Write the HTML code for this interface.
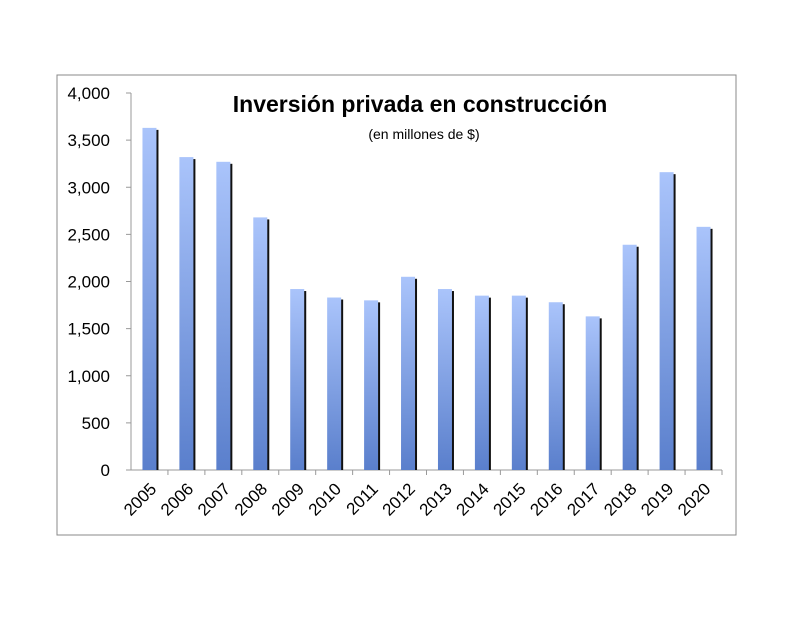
<!DOCTYPE html>
<html><head><meta charset="utf-8"><style>
body{margin:0;background:#fff}
svg text{font-family:"Liberation Sans",sans-serif}
</style></head><body>
<svg width="792" height="612" xmlns="http://www.w3.org/2000/svg">
<defs>
<linearGradient id="g" x1="0" y1="0" x2="0" y2="1">
<stop offset="0" stop-color="#aac4fb"/><stop offset="1" stop-color="#5a7fcc"/>
</linearGradient>
</defs>
<rect x="57" y="75" width="679" height="460" fill="#fff" stroke="#888" stroke-width="1"/>
<text x="420" y="112" text-anchor="middle" font-size="23" font-weight="bold">Inversión privada en construcción</text>
<text x="424" y="139" text-anchor="middle" font-size="14">(en millones de $)</text>
<g id="plot"></g>
</svg>
<script>
const categories=["2005","2006","2007","2008","2009","2010","2011","2012","2013","2014","2015","2016","2017","2018","2019","2020"];
const values=[3630,3320,3270,2680,1920,1830,1800,2050,1920,1850,1850,1780,1630,2390,3160,2580];
const yTicks=[0,500,1000,1500,2000,2500,3000,3500,4000];
const yTickLabels=["0","500","1,000","1,500","2,000","2,500","3,000","3,500","4,000"];
const NS="http://www.w3.org/2000/svg";
const g=document.getElementById("plot");
const X0=131,X1=722,Y0=470,Y1=93,MAX=4000;
const bw=(X1-X0)/categories.length;
const y=v=>Y0-(v/MAX)*(Y0-Y1);
const x=i=>X0+i*bw;
function mk(t,a){const e=document.createElementNS(NS,t);for(const k in a)e.setAttribute(k,a[k]);g.appendChild(e);return e;}
let e=mk("line",{x1:X0,y1:Y1,x2:X0,y2:Y0,stroke:"#999"});


e=mk("line",{x1:X0,y1:Y0,x2:X1,y2:Y0,stroke:"#999"});


yTicks.forEach((v,i)=>{
 let t=mk("line",{x1:X0-5,y1:y(v),x2:X0,y2:y(v),stroke:"#999"});
 
 
 let l=mk("text",{x:X0-21,y:y(v)+6,"text-anchor":"end","font-size":"17"});
 l.textContent=yTickLabels[i];
 
 
});
categories.forEach((c,i)=>{
 let t=mk("line",{x1:x(i+1),y1:Y0,x2:x(i+1),y2:Y0+5,stroke:"#999"});
 
 
 const cx=x(i)+bw/2;
 let s=mk("rect",{x:cx-5,y:y(values[i])+2,width:14,height:Y0-y(values[i])-2,fill:"#111"});
 
 
 let b=mk("rect",{x:cx-7,y:y(values[i]),width:14,height:Y0-y(values[i]),fill:"url(#g)"});
 
 
 let l=mk("text",{x:cx+8,y:Y0+20,"text-anchor":"end","font-size":"17",transform:`rotate(-45 ${cx+8} ${Y0+20})`});
 l.textContent=c;
 
 
});
</script>
</body></html>
